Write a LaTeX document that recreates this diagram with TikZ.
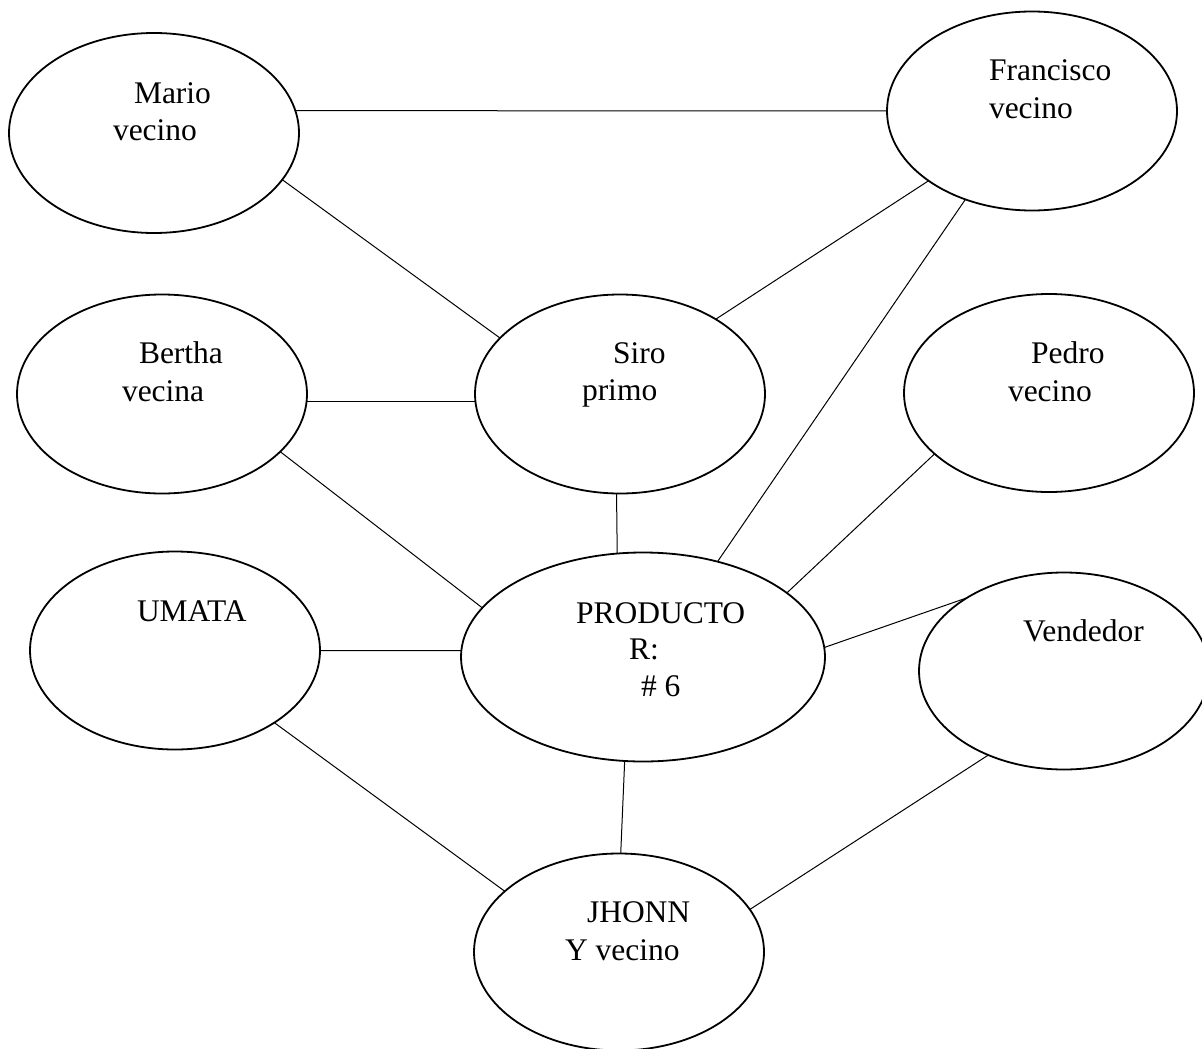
\documentclass[tikz,border=0pt]{standalone}
\usepackage{fontspec}
\setmainfont{Liberation Serif}
\usetikzlibrary{shapes.geometric}
\tikzset{
  oval/.style={ellipse, draw, line width=1.8pt, inner sep=0pt, outer sep=0pt,
    minimum width=290pt, minimum height=199pt},
  lbl/.style={anchor=base west, inner sep=0pt, outer sep=0pt,
    font=\fontsize{31.5}{37}\selectfont},
  conn/.style={line width=1pt}
}
\begin{document}
\begin{tikzpicture}[x=1pt,y=-1pt]
\useasboundingbox (0,0) rectangle (1202,1049);
% ellipses
\node[oval, minimum height=200pt] (mario) at (154,133) {};
\node[oval] (fran) at (1032,111) {};
\node[oval] (bertha) at (162,394) {};
\node[oval] (siro) at (620,394) {};
\node[oval, minimum height=198pt] (pedro) at (1049,393) {};
\node[oval, minimum height=198pt] (umata) at (175,650.5) {};
\node[oval, minimum width=364pt, minimum height=209pt] (prod) at (643,657) {};
\node[oval, minimum height=197pt] (vend) at (1064,671) {};
\node[oval, minimum height=197pt] (jhon) at (619,952) {};
% texts
\node[lbl] (t1a) at (134,103) {Mario};
\node[lbl] (t1b) at (113,140) {vecino};
\node[lbl] (t2a) at (989,81) {Francisco};
\node[lbl] (t2b) at (989,118) {vecino};
\node[lbl] (t3a) at (139,363) {Bertha};
\node[lbl] (t3b) at (122,401) {vecina};
\node[lbl] (t4a) at (613,363) {Siro};
\node[lbl] (t4b) at (582,400) {primo};
\node[lbl] (t5a) at (1031,363) {Pedro};
\node[lbl] (t5b) at (1008,401) {vecino};
\node[lbl] (t6a) at (137,621) {UMATA};
\node[lbl] (t7a) at (576,623) {PRODUCTO};
\node[lbl] (t7b) at (629,659) {R:};
\node[lbl] (t7c) at (641,696) {\# 6};
\node[lbl] (t8a) at (1023,641) {Vendedor};
\node[lbl] (t9a) at (587,922) {JHONN};
\node[lbl] (t9b) at (565,960) {Y vecino};
% connectors
\draw[conn] (mario.9.2) -- (fran.180);
\draw[conn] (mario.-20) -- (siro.155.8);
\draw[conn] (fran.-146.3) -- (siro.38.1);
\draw[conn] (fran.-127.2) -- (prod.52.4);
\draw[conn] (bertha.-3) -- (siro.-177.9);
\draw[conn] (bertha.-26.4) -- (prod.163.85);
\draw[conn] (siro.-92.8) -- (prod.104.1);
\draw[conn] (pedro.-152.2) -- (prod.24.7);
\draw[conn] (umata.-0.7) -- (prod.178.4);
\draw[conn] (prod.3.9) -- (vend.143.9);
\draw[conn] (umata.-36.4) -- (jhon.152.3);
\draw[conn] (prod.-100.9) -- (jhon.89);
\draw[conn] (vend.-132.2) -- (jhon.18.96);
\end{tikzpicture}
\end{document}
